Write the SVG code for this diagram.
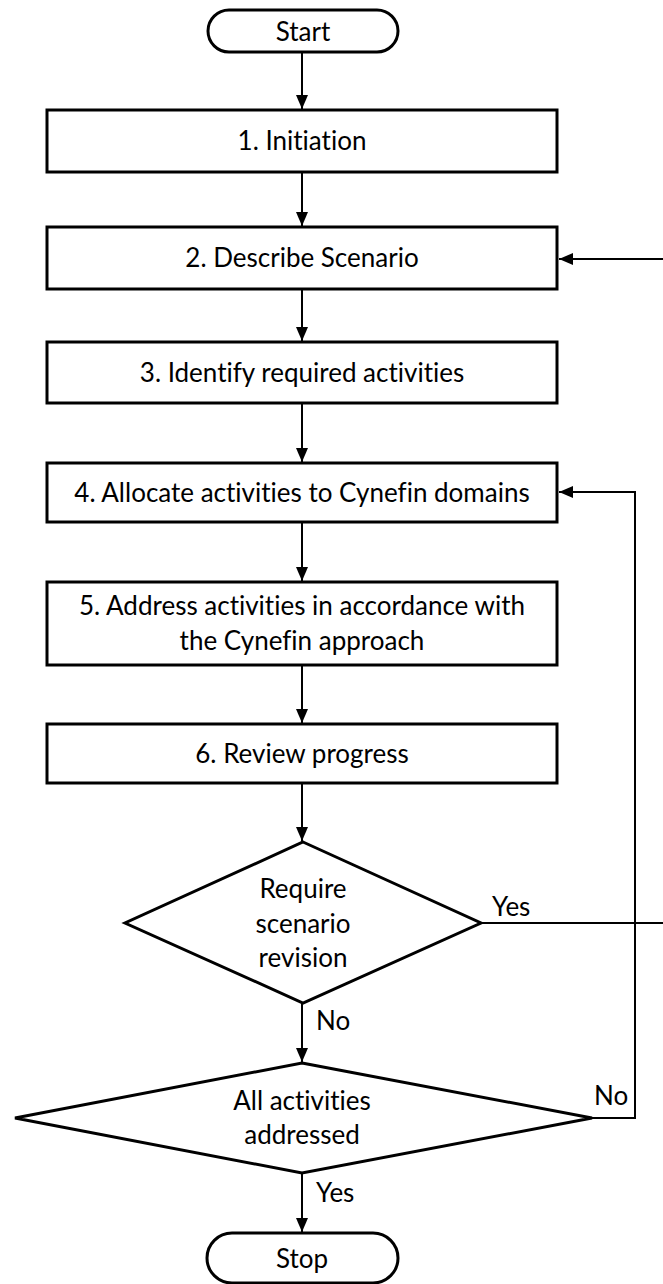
<svg xmlns="http://www.w3.org/2000/svg" width="663" height="1284" viewBox="0 0 663 1284">
  <style>
    .shape { fill: #ffffff; stroke: #000000; stroke-width: 3; stroke-linejoin: miter; }
    .conn { fill: none; stroke: #000000; stroke-width: 2; }
    .label, .tag { font-family: Lato, "Open Sans", "Liberation Sans", sans-serif; font-size: 26px; fill: #000000; font-variant-ligatures: none; font-feature-settings: "liga" 0, "clig" 0; }
    .label { text-anchor: middle; }
    .tag { text-anchor: start; }
  </style>
  <defs>
    <marker id="arrow" viewBox="0 0 14 12" refX="14" refY="6" markerWidth="14" markerHeight="12" markerUnits="userSpaceOnUse" orient="auto">
      <path d="M0,0 L14,6 L0,12 Z" fill="#000000"/>
    </marker>
  </defs>

  <rect width="663" height="1284" fill="#ffffff"/>

  <!-- connectors -->
  <g id="connectors">
    <line class="conn" x1="302" y1="52" x2="302" y2="109" marker-end="url(#arrow)"/>
    <line class="conn" x1="302" y1="172" x2="302" y2="226" marker-end="url(#arrow)"/>
    <line class="conn" x1="302" y1="289" x2="302" y2="341" marker-end="url(#arrow)"/>
    <line class="conn" x1="302" y1="403" x2="302" y2="462" marker-end="url(#arrow)"/>
    <line class="conn" x1="302" y1="522" x2="302" y2="581" marker-end="url(#arrow)"/>
    <line class="conn" x1="302" y1="665" x2="302" y2="723" marker-end="url(#arrow)"/>
    <line class="conn" x1="302" y1="783" x2="302" y2="841" marker-end="url(#arrow)"/>
    <!-- No: to second decision -->
    <line class="conn" x1="302" y1="1003" x2="302" y2="1062" marker-end="url(#arrow)"/>
    <!-- Yes: to stop -->
    <line class="conn" x1="302" y1="1173" x2="302" y2="1232" marker-end="url(#arrow)"/>
    <!-- Yes: scenario revision loop back to step 2 -->
    <polyline class="conn" points="481,923 663,923"/>
    <line class="conn" x1="663" y1="259" x2="559" y2="259" marker-end="url(#arrow)"/>
    <!-- No: loop back to step 4 -->
    <polyline class="conn" points="592,1118 635,1118 635,492 559,492" marker-end="url(#arrow)"/>
    <text class="tag" x="492" y="916">Yes</text>
    <text class="tag" x="316" y="1030">No</text>
    <text class="tag" x="594" y="1105">No</text>
    <text class="tag" x="316" y="1202">Yes</text>
  </g>

  <g id="start">
    <rect class="shape" x="208" y="10" width="190" height="42" rx="21" ry="21"/>
    <text class="label" x="303" y="41">Start</text>
  </g>

  <g id="step1">
    <rect class="shape" x="47" y="110" width="510" height="62"/>
    <text class="label" x="302" y="150">1. Initiation</text>
  </g>

  <g id="step2">
    <rect class="shape" x="47" y="227" width="510" height="62"/>
    <text class="label" x="302" y="267">2. Describe Scenario</text>
  </g>

  <g id="step3">
    <rect class="shape" x="47" y="342" width="510" height="61"/>
    <text class="label" x="302" y="382">3. Identify required activities</text>
  </g>

  <g id="step4">
    <rect class="shape" x="47" y="463" width="510" height="59"/>
    <text class="label" x="302" y="502">4. Allocate activities to Cynefin domains</text>
  </g>

  <g id="step5">
    <rect class="shape" x="47" y="582" width="510" height="83"/>
    <text class="label" x="302" y="615">5. Address activities in accordance with</text>
    <text class="label" x="302" y="650">the Cynefin approach</text>
  </g>

  <g id="step6">
    <rect class="shape" x="47" y="724" width="510" height="59"/>
    <text class="label" x="302" y="763">6. Review progress</text>
  </g>

  <g id="decision-revision">
    <polygon class="shape" points="303,842 481,923 303,1003 125,923"/>
    <text class="label" x="303" y="898">Require</text>
    <text class="label" x="303" y="933">scenario</text>
    <text class="label" x="303" y="967">revision</text>
  </g>

  <g id="decision-addressed">
    <polygon class="shape" points="302,1063 592,1118 302,1173 15,1118"/>
    <text class="label" x="302" y="1110">All activities</text>
    <text class="label" x="302" y="1144">addressed</text>
  </g>

  <g id="stop">
    <rect class="shape" x="207" y="1233" width="191" height="50" rx="25" ry="25"/>
    <text class="label" x="302" y="1268">Stop</text>
  </g>
</svg>
